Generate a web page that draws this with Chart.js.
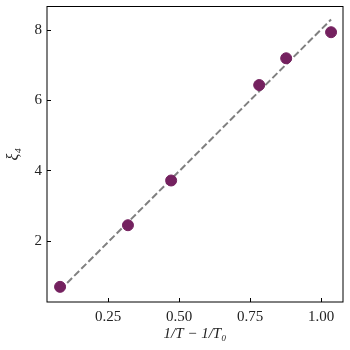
<!DOCTYPE html>
<html>
<head>
<meta charset="utf-8">
<script src="https://cdn.jsdelivr.net/npm/chart.js@4"></script>
<style>
  html, body { margin: 0; padding: 0; background: #fff; }
  #wrap { width: 350px; height: 350px; }
</style>
</head>
<body>
<div id="wrap"><canvas id="chart"></canvas></div>
<script>
// measured points
const xValues = [0.081, 0.320, 0.472, 0.782, 0.877, 1.035];
const yValues = [0.71, 2.46, 3.73, 6.44, 7.20, 7.94];

// linear fit, drawn across the data range
const fitX = [0.081, 1.035];
const fitY = [0.62, 8.30];

const xTicks = [0.25, 0.50, 0.75, 1.00];
const yTicks = [2, 4, 6, 8];

const FONT = "'Liberation Serif', 'DejaVu Serif', serif";

// box around the plot area (matplotlib style frame)
const frame = {
  id: "frame",
  afterDraw(chart) {
    const { ctx, chartArea: a } = chart;
    ctx.save();
    ctx.strokeStyle = "#000";
    ctx.lineWidth = 1;
    ctx.strokeRect(a.left, a.top, a.right - a.left, a.bottom - a.top);
    ctx.restore();
  },
};

new Chart(document.getElementById("chart"), {
  type: "scatter",
  data: {
    datasets: [
      {
        type: "line",
        data: fitX.map((x, i) => ({ x, y: fitY[i] })),
        borderColor: "#808080",
        borderWidth: 2,
        borderDash: [7, 3],
        pointRadius: 0,
        fill: false,
        order: 2,
      },
      {
        data: xValues.map((x, i) => ({ x, y: yValues[i] })),
        backgroundColor: "#74215f",
        borderColor: "#74215f",
        pointRadius: 5.5,
        order: 1,
      },
    ],
  },
  plugins: [frame],
  options: {
    responsive: true,
    maintainAspectRatio: false,
    animation: false,
    layout: { padding: { top: 5, right: 7, left: 0, bottom: 0 } },
    plugins: { legend: { display: false }, tooltip: { enabled: false } },
    scales: {
      x: {
        type: "linear",
        min: 0.035,
        max: 1.077,
        afterBuildTicks: (s) => { s.ticks = xTicks.map((v) => ({ value: v })); },
        afterFit: (s) => { s.height = 48; s.paddingLeft = 0; s.paddingRight = 0; },
        border: { display: false },
        grid: { drawOnChartArea: false, tickLength: -4, color: "#000", tickWidth: 1 },
        ticks: {
          padding: 10,
          color: "#222",
          font: { family: FONT, size: 15 },
          callback: (v) => v.toFixed(2),
        },
        title: {
          display: true,
          text: "1/T − 1/T₀",
          color: "#222",
          font: { family: FONT, size: 15, style: "italic" },
          padding: { top: 0, bottom: 7 },
        },
      },
      y: {
        type: "linear",
        min: 0.28,
        max: 8.67,
        afterBuildTicks: (s) => { s.ticks = yTicks.map((v) => ({ value: v })); },
        afterFit: (s) => { s.width = 47; s.paddingTop = 0; s.paddingBottom = 0; },
        border: { display: false },
        grid: { drawOnChartArea: false, tickLength: -4, color: "#000", tickWidth: 1 },
        ticks: {
          padding: 9,
          color: "#222",
          font: { family: FONT, size: 15 },
          callback: (v) => String(v),
        },
        title: {
          display: true,
          text: "ξ₄",
          color: "#222",
          font: { family: FONT, size: 16, style: "italic" },
          padding: { bottom: 0 },
        },
      },
    },
  },
});
</script>
</body>
</html>
